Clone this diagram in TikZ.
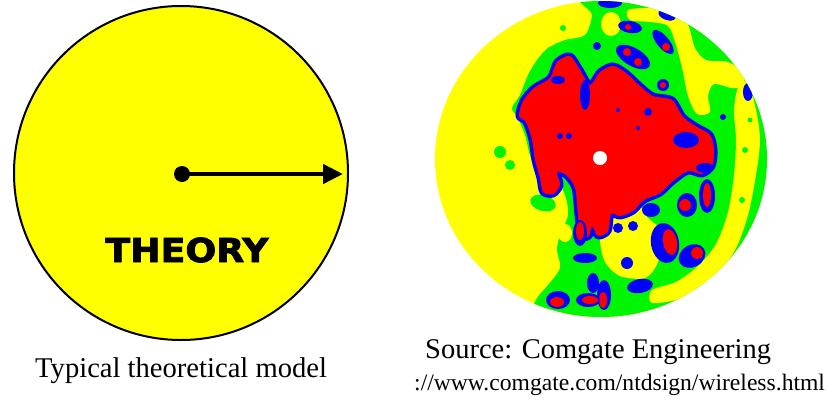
\documentclass[tikz,border=0pt]{standalone}
\usepackage{fontspec}
\setmainfont{Liberation Serif}
\newfontfamily\heavysans[FakeBold=2.4]{DejaVu Sans Bold}
\usetikzlibrary{arrows.meta}
\definecolor{cy}{RGB}{255,255,0}
\definecolor{cg}{RGB}{0,245,0}
\definecolor{cb}{RGB}{0,0,255}
\definecolor{cr}{RGB}{255,0,0}
\tikzset{
  disc/.style={circle, draw=black, fill=cy, line width=2pt, minimum size=334pt, inner sep=0pt},
  hub/.style={circle, fill=black, inner sep=0pt, minimum size=16pt},
  radius arrow/.style={line width=4.5pt, -{Triangle[length=20pt,width=19pt]}},
  bigword/.style={inner sep=0pt, font=\heavysans\fontsize{33}{36}\selectfont, xscale=1.1},
  caption/.style={inner sep=0pt, anchor=base west},
  blu/.style={fill=cb},
  rd/.style={fill=cr},
  grn/.style={fill=cg},
  yel/.style={fill=cy}
}
\begin{document}
\begin{tikzpicture}[x=1pt,y=-1pt]
\useasboundingbox (0,0) rectangle (827,399);
\fill[white] (0,0) rectangle (827,399);

% ---- left: theoretical model ----
\node[disc] (theory) at (181,173) {};
\node[hub] (ctr) at (182,174) {};
\coordinate (rim) at (343,174);
\draw[radius arrow] (ctr.center) -- (rim);
\node[bigword] (word) at (187,250) {THEORY};
\node[caption, font=\fontsize{28.6}{32}\selectfont] (cap1) at (35,377) {Typical theoretical model};

% ---- right: measured coverage ----
\begin{scope}
\clip (601,159) ellipse [x radius=166pt, y radius=158pt];
\fill[yel] (601,159) ellipse [x radius=166pt, y radius=158pt];
% green region
\fill[grn] plot[smooth cycle, tension=0.5] coordinates {
 (590,-8) (592,15) (585,35) (565,40) (548,48) (537,60) (528,75) (520,95) (512,108)
 (518,118) (525,135) (530,155) (537,168) (552,168) (565,195) (568,215) (560,235)
 (557,250) (560,268) (548,285) (537,298) (530,315) (530,335) (800,335) (800,-8)};
\fill[grn] (500,152) circle [radius=6pt];
\fill[grn] (510,165) circle [radius=5pt];
\fill[grn] (543,203) ellipse [x radius=13pt, y radius=8pt, rotate=-15];
\fill[grn] (563,28) circle [radius=3pt];
% yellow patches inside the green
\fill[yel] (611,24) ellipse [x radius=10pt, y radius=12pt];
\fill[yel] plot[smooth cycle, tension=0.5] coordinates {
 (628,10) (650,8) (675,12) (688,25) (695,48) (706,60) (728,62) (742,72) (744,86)
 (732,88) (714,84) (708,96) (710,112) (697,114) (688,96) (683,72) (676,45) (668,26)
 (650,22) (630,20)};
\fill[yel] plot[smooth cycle, tension=0.5] coordinates {
 (748,82) (756,110) (760,140) (756,175) (748,215) (735,250) (712,280) (682,298)
 (652,303) (652,290) (676,282) (698,266) (716,244) (728,212) (734,175) (736,140)
 (734,110) (738,88)};
\fill[yel] plot[smooth cycle, tension=0.5] coordinates {
 (615,203) (635,200) (648,218) (662,232) (658,262) (645,278) (620,276) (605,262)
 (600,240) (603,215)};
\fill[yel] (565,233) ellipse [x radius=7pt, y radius=9pt];
\fill[grn] (745,150) circle [radius=3pt];
\fill[grn] (742,200) circle [radius=3pt];
\fill[grn] (750,120) circle [radius=2.5pt];
% main red mass with blue rim
\filldraw[blu, draw=cb, line width=7pt, line join=round] plot[smooth cycle, tension=0.5] coordinates {
 (613,66) (626,73) (640,86) (653,96) (672,100) (683,117) (697,127) (710,135) (714,150)
 (712,166) (702,174) (688,171) (673,181) (660,193) (644,200) (633,211) (620,216)
 (611,214) (608,231) (598,236) (592,226) (589,236) (581,236) (578,215) (575,188)
 (566,175) (557,172) (560,185) (553,194) (543,192) (540,178) (535,160) (532,140)
 (526,122) (519,116) (523,101) (534,88) (550,78) (557,62) (570,56) (580,70) (590,85) (600,72)};
\fill[rd] plot[smooth cycle, tension=0.5] coordinates {
 (613,66) (626,73) (640,86) (653,96) (672,100) (683,117) (697,127) (710,135) (714,150)
 (712,166) (702,174) (688,171) (673,181) (660,193) (644,200) (633,211) (620,216)
 (611,214) (608,231) (598,236) (592,226) (589,236) (581,236) (578,215) (575,188)
 (566,175) (557,172) (560,185) (553,194) (543,192) (540,178) (535,160) (532,140)
 (526,122) (519,116) (523,101) (534,88) (550,78) (557,62) (570,56) (580,70) (590,85) (600,72)};
% blue patches inside the red mass
\fill[blu] (585,95) ellipse [x radius=5pt, y radius=15pt];
\fill[blu] (558,80) ellipse [x radius=7pt, y radius=4pt];
\fill[blu] (686,140) ellipse [x radius=13pt, y radius=8pt];
\fill[blu] (560,136) circle [radius=3pt];
\fill[blu] (569,136) circle [radius=3pt];
\fill[blu] (648,112) circle [radius=4pt];
\fill[blu] (618,110) circle [radius=2pt];
\fill[blu] (638,128) circle [radius=2pt];
\fill[blu] (705,168) ellipse [x radius=9pt, y radius=5pt];
% satellite blobs
\fill[blu] (633,57) ellipse [x radius=19pt, y radius=9pt, rotate=-30];
\fill[rd] (627,52) circle [radius=4pt];
\fill[rd] (638,62) circle [radius=4pt];
\fill[blu] (630,27) ellipse [x radius=12pt, y radius=6pt, rotate=-10];
\fill[rd] (628,27) circle [radius=3pt];
\fill[blu] (663,42) ellipse [x radius=15pt, y radius=6pt, rotate=-50];
\fill[rd] (666,47) circle [radius=4pt];
\fill[blu] (610,3) ellipse [x radius=12pt, y radius=5pt];
\fill[blu] (667,15) ellipse [x radius=9pt, y radius=5pt, rotate=-20];
\fill[blu] (597,46) circle [radius=4pt];
\fill[blu] (663,85) circle [radius=6pt];
\fill[rd] (663,85) circle [radius=3pt];
\fill[blu] (748,92) ellipse [x radius=5pt, y radius=9pt];
\fill[blu] (723,117) circle [radius=3pt];
\fill[blu] (707,196) ellipse [x radius=8pt, y radius=17pt];
\fill[rd] (707,195) ellipse [x radius=4pt, y radius=12pt];
\fill[blu] (687,205) ellipse [x radius=10pt, y radius=12pt];
\fill[rd] (685,205) circle [radius=6pt];
\fill[blu] (651,210) ellipse [x radius=9pt, y radius=7pt];
\fill[blu] (665,243) ellipse [x radius=14pt, y radius=20pt, rotate=10];
\fill[rd] (670,242) ellipse [x radius=7pt, y radius=13pt, rotate=10];
\fill[blu] (692,256) ellipse [x radius=14pt, y radius=11pt, rotate=30];
\fill[rd] (697,253) circle [radius=6pt];
\fill[blu] (618,228) circle [radius=5pt];
\fill[blu] (633,226) circle [radius=5pt];
\fill[blu] (627,263) circle [radius=6pt];
\fill[blu] (640,286) ellipse [x radius=13pt, y radius=7pt, rotate=10];
\fill[blu] (604,295) ellipse [x radius=7pt, y radius=15pt];
\fill[rd] (603,300) ellipse [x radius=4pt, y radius=8pt];
\fill[blu] (580,233) ellipse [x radius=7pt, y radius=13pt];
\fill[rd] (580,231) ellipse [x radius=4pt, y radius=9pt];
\fill[blu] (585,258) ellipse [x radius=12pt, y radius=5pt];
\fill[blu] (593,283) ellipse [x radius=6pt, y radius=10pt];
\fill[blu] (558,300) ellipse [x radius=12pt, y radius=9pt];
\fill[rd] (557,302) ellipse [x radius=7pt, y radius=5pt];
\fill[blu] (588,300) ellipse [x radius=12pt, y radius=7pt];
\fill[rd] (590,300) ellipse [x radius=8pt, y radius=4pt];
% transmitter
\fill[white] (600,158) circle [radius=7pt];
\end{scope}

\node[caption, font=\fontsize{28.5}{32}\selectfont] (cap2) at (425,358) {Source: Comgate Engineering};
\node[caption, font=\fontsize{23.6}{28}\selectfont] (cap3) at (414,390) {://www.comgate.com/ntdsign/wireless.html};
\end{tikzpicture}
\end{document}
